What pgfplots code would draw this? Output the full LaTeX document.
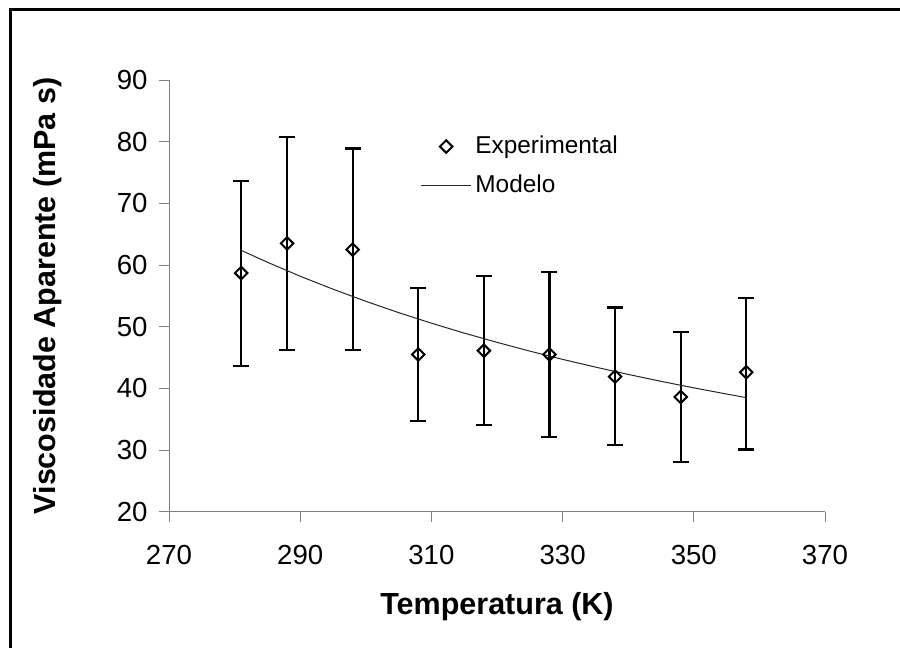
\documentclass[border=0pt]{standalone}
\usepackage{pgfplots}
\pgfplotsset{compat=1.18}
\usepackage{pgfplotstable}
\usepackage{fontspec}
\setmainfont{Liberation Sans}
\pgfplotsset{
  expleg/.style={legend image code/.code={\draw[##1] plot[only marks] coordinates {(12.35pt,0pt)}; \path (0pt,0pt) (24.7pt,0pt);}},
  modleg/.style={legend image code/.code={\draw[##1] (0pt,0pt) -- (24.7pt,0pt);}},
}
\pgfplotstableread{
T   V     ep    em
281 58.7  14.9  15.1
288 63.5  17.3  17.3
298 62.5  16.4  16.3
308 45.5  10.8  10.8
318 46.1  12.1  12.0
328 45.5  13.4  13.4
338 41.9  11.2  11.1
348 38.6  10.5  10.5
358 42.6  12.0  12.5
}\expdata
\begin{document}
\begin{tikzpicture}
\begin{axis}[
  at={(84.5pt,68.15pt)}, anchor=south west,
  scale only axis, width=328pt, height=215.85pt,
  xmin=270, xmax=370, ymin=20, ymax=90,
  xtick={270,290,...,370}, ytick={20,30,...,90},
  axis lines=left, axis line style={-, draw=gray, line width=0.5pt},
  tick align=outside, major tick length=5pt, tick style={gray, line width=0.5pt},
  /pgf/number format/assume math mode=true,
  tick label style={font=\fontsize{13.8}{16}\selectfont, text=black},
  xticklabel style={font=\fontsize{13.8}{16}\selectfont, anchor=north, inner sep=0pt, yshift=-11.5pt},
  yticklabel style={font=\fontsize{13.8}{16}\selectfont, anchor=east, inner sep=0pt, xshift=-5.5pt},
  xlabel={Temperatura (K)}, ylabel={Viscosidade Aparente (mPa s)},
  label style={font=\fontsize{15.25}{18}\selectfont\bfseries},
  xlabel style={at={(axis description cs:0.5,-0.22)}, anchor=center},
  ylabel style={at={(axis description cs:-0.185,0.5)}, anchor=center},
  legend style={draw=none, fill=none, at={(axis description cs:0.3835,0.88)}, anchor=north west,
    font=\fontsize{12.2}{14}\selectfont, inner sep=0pt, row sep=5pt},
  legend cell align=left,
]
\addplot[only marks, black, mark=square, mark size=2.2pt,
  mark options={rotate=45, line width=1pt}, expleg,
  error bars/.cd, y dir=both, y explicit,
  error bar style={line width=1.1pt, black},
  error mark options={rotate=90, mark size=4pt, line width=1.1pt, black}]
  table[x=T, y=V, y error plus=ep, y error minus=em] {\expdata};
\addlegendentry{Experimental}
\addplot[black!85, line width=0.5pt, mark=none, modleg]
  coordinates {
  (281,62.38) (285,60.45) (290,58.18) (295,56.08) (300,54.12) (305,52.28)
  (310,50.57) (315,48.96) (320,47.46) (325,46.04) (330,44.70) (335,43.45)
  (340,42.26) (345,41.14) (350,40.08) (355,39.08) (358,38.50)};
\addlegendentry{Modelo}
\end{axis}
\draw[line width=1.5pt] (5.25pt,-20pt) -- (5.25pt,319.25pt) -- (470pt,319.25pt);
\pgfresetboundingbox
\useasboundingbox (0,0) rectangle (450pt,324pt);
\end{tikzpicture}
\end{document}
